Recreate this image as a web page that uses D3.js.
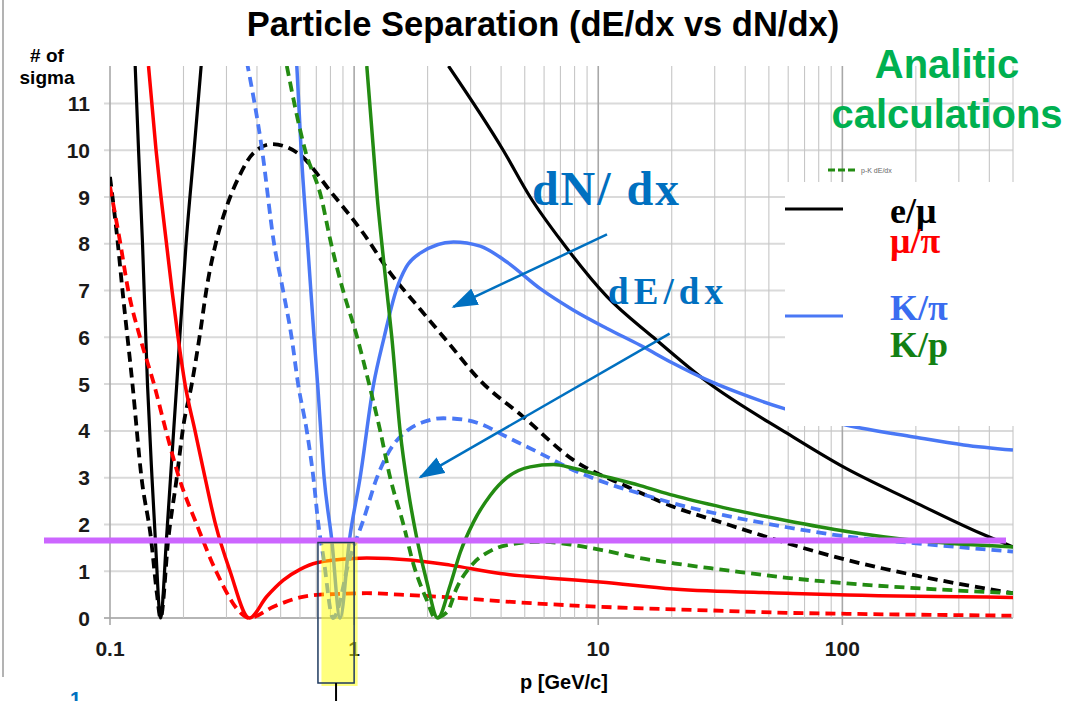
<!DOCTYPE html>
<html>
<head>
<meta charset="utf-8">
<script src="https://cdn.jsdelivr.net/npm/d3@7"></script>
<style>
  body { margin: 0; background: #fff; }
  svg { display: block; }
  text { font-family: "Liberation Sans", Arial, sans-serif; }
</style>
</head>
<body>
<div id="chart"></div>
<script>
// ---- data (p in GeV/c, separation in # of sigma) ----
var xTicks = [0.1, 1, 10, 100];
var yTicks = d3.range(0, 12);
var pDomain = [0.1, 500];
var sigmaMax = 11.8;

// e/mu
var eMuDNdx = [[0.1266, 11.9], [0.1309, 10], [0.1359, 8], [0.1424, 5], [0.1486, 3], [0.1533, 1.7], [0.1611, 0],
  [0.1704, 1.7], [0.1770, 3], [0.1877, 5], [0.2049, 8], [0.2210, 10], [0.2371, 11.9], [null, null],
  [2.435, 11.8], [4.08, 10], [5.26, 9], [7.2, 8], [10.86, 6.87], [16.8, 6.0], [27.9, 5.05], [59.3, 3.95],
  [100.9, 3.23], [190, 2.52], [368, 1.81], [500, 1.52]];
var eMuDEdx = [[0.1, 9.43], [0.1073, 8.08], [0.1125, 7], [0.1236, 5], [0.1346, 3], [0.1472, 1.7], [0.1558, 0.5],
  [0.1611, 0], [0.1734, 1.7], [0.1877, 3], [0.1997, 4.1], [0.2162, 5], [0.2338, 6.08], [0.2490, 7.06],
  [0.2733, 8.08], [0.3008, 8.8], [0.3410, 9.48], [0.3867, 9.94], [0.4613, 10.13], [0.6007, 9.9],
  [0.80, 9.12], [1.089, 8.23], [1.405, 7.38], [1.865, 6.6], [2.4, 5.92], [3.28, 5.08], [4.93, 4.30],
  [7.9, 3.38], [13.1, 2.81], [20.3, 2.38], [32.5, 2.03], [59.3, 1.60], [104.5, 1.24], [195, 0.92], [500, 0.53]];

// mu/pi
var muPiDNdx = [[0.1438, 11.8], [0.1544, 10], [0.1618, 9], [0.1704, 8], [0.1795, 7], [0.1900, 6], [0.2029, 5],
  [0.2230, 4], [0.2451, 3], [0.2706, 2], [0.3103, 1], [0.372, 0], [0.4387, 0.46], [0.513, 0.81],
  [0.6007, 1.04], [0.7033, 1.18], [0.991, 1.27], [1.127, 1.28], [1.696, 1.24], [2.474, 1.13], [3.967, 0.95],
  [6.359, 0.85], [10.19, 0.77], [20.3, 0.62], [59.5, 0.53], [104.8, 0.49], [500, 0.44]];
var muPiDEdx = [[0.1, 9.22], [0.1099, 8.05], [0.1188, 7], [0.1327, 6], [0.1514, 5], [0.1696, 4], [0.1918, 3],
  [0.2266, 2], [0.2719, 1], [0.3541, 0.05], [0.372, 0], [0.467, 0.24], [0.6007, 0.44], [0.7255, 0.5],
  [0.823, 0.51], [1.127, 0.53], [1.543, 0.5], [2.474, 0.44], [3.967, 0.36], [10.19, 0.24], [29.6, 0.16],
  [59.3, 0.11], [104.5, 0.09], [500, 0.05]];

// K/pi
var kPiDNdx = [[0.5825, 11.8], [0.6066, 10], [0.6448, 8], [0.6856, 6], [0.7087, 5], [0.7535, 3], [0.8088, 1.7],
  [0.876, 0], [0.9585, 1.7], [1.058, 3], [1.202, 5], [1.327, 6], [1.486, 7], [1.634, 7.5], [1.865, 7.8],
  [2.553, 8.04], [3.284, 7.95], [4.225, 7.61], [5.785, 7.04], [7.92, 6.58], [10.86, 6.19], [14.86, 5.83],
  [20.35, 5.44], [27.9, 5.09], [38.2, 4.80], [57.4, 4.48], [104.5, 4.12], [196, 3.87], [314, 3.70], [500, 3.59]];
var kPiDEdx = [[0.3633, 11.9], [0.4198, 10], [0.470, 8], [0.5117, 7], [0.5545, 6], [0.5896, 5], [0.640, 4],
  [0.681, 3], [0.714, 2], [0.7485, 1.3], [0.82, 0], [0.963, 1.3], [1.092, 2.1], [1.24, 3], [1.405, 3.6],
  [1.644, 4.0], [1.923, 4.19], [2.323, 4.27], [2.897, 4.23], [3.284, 4.15], [4.225, 3.87], [5.785, 3.52],
  [7.92, 3.16], [10.86, 2.88], [14.86, 2.66], [20.35, 2.45], [32.6, 2.2], [59.3, 1.94], [104.5, 1.74],
  [196, 1.60], [500, 1.42]];

// K/p
var kPDNdx = [[1.127, 11.8], [1.2, 10], [1.243, 9], [1.299, 8], [1.361, 7], [1.427, 6], [1.543, 4], [1.669, 2.7],
  [1.807, 1.7], [1.986, 0.77], [2.2, 0], [2.474, 0.7], [2.72, 1.4], [3.083, 2.05], [3.609, 2.62], [4.225, 3.0],
  [5.264, 3.23], [6.56, 3.28], [7.92, 3.2], [9.88, 3.07], [14.86, 2.83], [20.35, 2.62], [32.6, 2.36],
  [59.3, 2.08], [104.5, 1.85], [196, 1.66], [500, 1.52]];
var kPDEdx = [[0.530, 11.8], [0.63, 10], [0.7325, 9], [0.805, 8], [0.901, 7], [1.029, 6], [1.152, 5], [1.279, 4],
  [1.405, 3], [1.592, 2], [1.75, 1.15], [1.986, 0.38], [2.15, 0], [2.399, 0.12], [2.636, 0.65], [3.083, 1.17],
  [3.609, 1.43], [4.225, 1.56], [5.785, 1.63], [7.92, 1.56], [10.86, 1.43], [14.86, 1.28], [20.35, 1.17],
  [32.6, 1.03], [59.3, 0.86], [104.5, 0.74], [268.5, 0.60], [500, 0.53]];

var seriesList = [
  { name: "e/mu dN/dx", data: eMuDNdx, color: "#000000", dash: null, width: 3.2 },
  { name: "e/mu dE/dx", data: eMuDEdx, color: "#000000", dash: "10,6", width: 3.8 },
  { name: "mu/pi dE/dx", data: muPiDEdx, color: "#ff0000", dash: "10,6", width: 3.8 },
  { name: "mu/pi dN/dx", data: muPiDNdx, color: "#ff0000", dash: null, width: 3.5 },
  { name: "K/pi dE/dx", data: kPiDEdx, color: "#4a78f5", dash: "10,6", width: 3.8 },
  { name: "K/pi dN/dx", data: kPiDNdx, color: "#4a78f5", dash: null, width: 3.5 },
  { name: "K/p dE/dx", data: kPDEdx, color: "#238b12", dash: "10,6", width: 3.8 },
  { name: "K/p dN/dx", data: kPDNdx, color: "#238b12", dash: null, width: 3.5 }
];

var legendLabels = ["e/\u03bc", "\u03bc/\u03c0", "K/\u03c0", "K/p"];
var legendColors = ["#000000", "#ff0000", "#3a6cf0", "#138013"];
var threshold = 1.656;           // violet cut line, # of sigma
var highlightP = [0.711, 1.0];   // yellow box around p ~ 0.7-1 GeV/c
// arrows: [from p, from sigma, to p, to sigma]
var arrowDN = [10.86, 8.2, 2.55, 6.65];
var arrowDE = [19.6, 6.08, 1.865, 3.01];

// ---- layout ----
var W = 1075, H = 701;
var plot = { left: 110, right: 1013, top: 66, bottom: 618 };

var svg = d3.select("#chart").append("svg")
  .attr("width", W).attr("height", H);

svg.append("rect").attr("width", W).attr("height", H).attr("fill", "#fff");

var x = d3.scaleLog().domain(pDomain).range([plot.left, plot.right]);
var y = d3.scaleLinear().domain([0, sigmaMax]).range([plot.bottom, plot.top]);

// slide border on the left
svg.append("line")
  .attr("x1", 3).attr("x2", 3).attr("y1", 0).attr("y2", 677)
  .attr("stroke", "#9a9a9a").attr("stroke-width", 1.5);

// ---- grid ----
var minor = [];
[0.1, 1, 10, 100].forEach(function(d) {
  for (var k = 1; k <= 9; k++) {
    var v = +(d * k).toPrecision(3);
    if (v <= pDomain[1]) minor.push(v);
  }
});

var grid = svg.append("g").attr("class", "grid");

grid.selectAll(".hgrid")
  .data(yTicks)
  .enter().append("line")
  .attr("x1", plot.left - 6).attr("x2", plot.right)
  .attr("y1", function(d) { return y(d); })
  .attr("y2", function(d) { return y(d); })
  .attr("stroke", function(d) { return d === 0 ? "#b5b5b5" : "#dadada"; })
  .attr("stroke-width", 2);

grid.selectAll(".vgrid")
  .data(minor)
  .enter().append("line")
  .attr("x1", function(d) { return x(d); })
  .attr("x2", function(d) { return x(d); })
  .attr("y1", plot.top)
  .attr("y2", function(d) { return xTicks.indexOf(d) >= 0 ? plot.bottom + 7 : plot.bottom; })
  .attr("stroke", function(d) { return xTicks.indexOf(d) >= 0 ? "#a8a8a8" : "#c6c6c6"; })
  .attr("stroke-width", function(d) { return xTicks.indexOf(d) >= 0 ? 1.6 : 1.1; });

// ---- tick labels ----
svg.append("g").selectAll("text")
  .data(yTicks)
  .enter().append("text")
  .attr("x", 90)
  .attr("y", function(d) { return y(d); })
  .attr("dy", "0.36em")
  .attr("text-anchor", "end")
  .attr("font-size", 21).attr("font-weight", "bold").attr("fill", "#1a1a1a")
  .text(function(d) { return d; });

svg.append("g").selectAll("text")
  .data(xTicks)
  .enter().append("text")
  .attr("x", function(d) { return x(d); })
  .attr("y", 656)
  .attr("text-anchor", "middle")
  .attr("font-size", 21).attr("font-weight", "bold").attr("fill", "#1a1a1a")
  .text(function(d) { return d3.format("~g")(d); });

svg.append("text").attr("x", 47).attr("y", 62).attr("text-anchor", "middle")
  .attr("font-size", 19).attr("font-weight", "bold").text("# of");
svg.append("text").attr("x", 47).attr("y", 84).attr("text-anchor", "middle")
  .attr("font-size", 19).attr("font-weight", "bold").text("sigma");

svg.append("text").attr("x", 564).attr("y", 689).attr("text-anchor", "middle")
  .attr("font-size", 20).attr("font-weight", "bold").text("p [GeV/c]");

svg.append("text").attr("x", 543).attr("y", 36).attr("text-anchor", "middle")
  .attr("font-size", 34.5).attr("font-weight", "bold").text("Particle Separation (dE/dx vs dN/dx)");

// ---- curves ----
svg.append("clipPath").attr("id", "plotclip")
  .append("rect")
  .attr("x", plot.left).attr("y", plot.top)
  .attr("width", plot.right - plot.left)
  .attr("height", plot.bottom - plot.top + 4);

var line = d3.line()
  .defined(function(d) { return d[0] != null; })
  .x(function(d) { return x(d[0]); })
  .y(function(d) { return y(d[1]); })
  .curve(d3.curveMonotoneX);

svg.append("g").attr("clip-path", "url(#plotclip)")
  .selectAll("path")
  .data(seriesList)
  .enter().append("path")
  .attr("d", function(d) { return line(d.data); })
  .attr("fill", "none")
  .attr("stroke", function(d) { return d.color; })
  .attr("stroke-width", function(d) { return d.width; })
  .attr("stroke-dasharray", function(d) { return d.dash; })
  .attr("stroke-linejoin", "round");

// ---- threshold line ----
svg.append("line")
  .attr("x1", 44).attr("x2", 1006)
  .attr("y1", y(threshold)).attr("y2", y(threshold))
  .attr("stroke", "#cc66ff").attr("stroke-width", 6);

// ---- legend box (covers part of the plot) ----
svg.append("rect")
  .attr("x", 785).attr("y", 182).attr("width", W - 785).attr("height", 244)
  .attr("fill", "#fff");

svg.append("text").attr("x", 947).attr("y", 78).attr("text-anchor", "middle")
  .attr("font-size", 40).attr("font-weight", "bold").attr("fill", "#00b050").text("Analitic");
svg.append("text").attr("x", 947).attr("y", 128).attr("text-anchor", "middle")
  .attr("font-size", 40).attr("font-weight", "bold").attr("fill", "#00b050").text("calculations");

svg.append("line").attr("x1", 828).attr("x2", 857).attr("y1", 170).attr("y2", 170)
  .attr("stroke", "#238b12").attr("stroke-width", 3).attr("stroke-dasharray", "7,3");
svg.append("text").attr("x", 861).attr("y", 173)
  .attr("font-size", 7).attr("fill", "#666").text("p-K dE/dx");

svg.append("line").attr("x1", 785).attr("x2", 843).attr("y1", 209).attr("y2", 209)
  .attr("stroke", "#000").attr("stroke-width", 3);
svg.append("line").attr("x1", 785).attr("x2", 843).attr("y1", 316).attr("y2", 316)
  .attr("stroke", "#4a78f5").attr("stroke-width", 3);

var legendY = [223, 253, 320, 357];
svg.append("g").selectAll("text")
  .data(legendLabels)
  .enter().append("text")
  .attr("x", 890)
  .attr("y", function(d, i) { return legendY[i]; })
  .attr("fill", function(d, i) { return legendColors[i]; })
  .style("font-family", "'Liberation Serif', 'Times New Roman', serif")
  .attr("font-size", 36).attr("font-weight", "bold")
  .text(function(d) { return d; });

// ---- annotations ----
var defs = svg.append("defs");
defs.append("marker")
  .attr("id", "arrowhead")
  .attr("markerUnits", "userSpaceOnUse")
  .attr("viewBox", "0 0 26 18")
  .attr("refX", 24).attr("refY", 9)
  .attr("markerWidth", 26).attr("markerHeight", 18)
  .attr("orient", "auto")
  .append("path").attr("d", "M0,0L26,9L0,18Z").attr("fill", "#0070c0");

[arrowDN, arrowDE].forEach(function(a) {
  svg.append("line")
    .attr("x1", x(a[0])).attr("y1", y(a[1]))
    .attr("x2", x(a[2])).attr("y2", y(a[3]))
    .attr("stroke", "#0070c0").attr("stroke-width", 2.5)
    .attr("marker-end", "url(#arrowhead)");
});

svg.append("text").attr("x", 532).attr("y", 205)
  .style("font-family", "'Liberation Serif', 'Times New Roman', serif")
  .attr("font-size", 48).attr("font-weight", "bold").attr("fill", "#0070c0")
  .attr("textLength", 147).attr("lengthAdjust", "spacing")
  .text("dN/ dx");
svg.append("text").attr("x", 608).attr("y", 304)
  .style("font-family", "'Liberation Serif', 'Times New Roman', serif")
  .attr("font-size", 37).attr("font-weight", "bold").attr("fill", "#0070c0")
  .attr("textLength", 115).attr("lengthAdjust", "spacing")
  .text("dE/dx");

// ---- yellow highlight ----
var hx0 = x(highlightP[0]), hx1 = x(highlightP[1]);
var hTop = y(threshold) + 2;
svg.append("rect")
  .attr("x", hx0 + 3.5).attr("y", hTop).attr("width", hx1 - hx0).attr("height", 686 - hTop)
  .attr("fill", "#ffff00").attr("fill-opacity", 0.5);
svg.append("rect")
  .attr("x", hx0).attr("y", hTop).attr("width", hx1 - hx0).attr("height", 683 - hTop)
  .attr("fill", "none").attr("stroke", "#1f3a5f").attr("stroke-width", 1.5);
svg.append("line")
  .attr("x1", (hx0 + hx1) / 2).attr("x2", (hx0 + hx1) / 2).attr("y1", 683).attr("y2", H)
  .attr("stroke", "#000").attr("stroke-width", 2);

svg.append("text").attr("x", 70).attr("y", 706)
  .attr("font-size", 20).attr("font-weight", "bold").attr("fill", "#0070c0").text("1");
</script>
</body>
</html>
